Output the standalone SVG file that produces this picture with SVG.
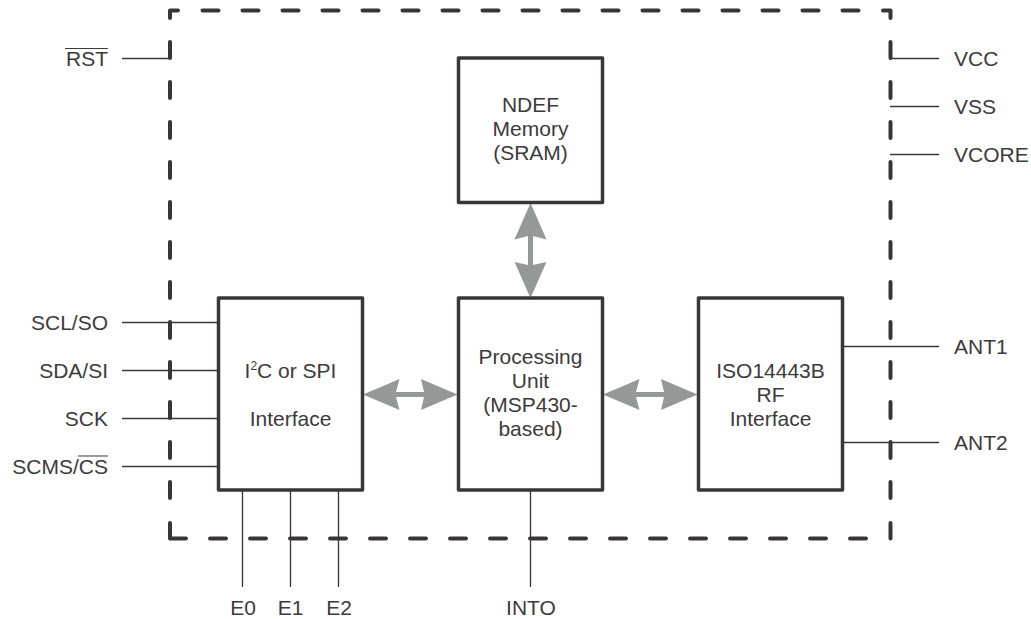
<svg xmlns="http://www.w3.org/2000/svg" width="1031" height="619" viewBox="0 0 1031 619">
<style>
text{font-family:"Liberation Sans",Arial,sans-serif;font-size:21px;fill:#3d3a3b}
.m{text-anchor:middle}
.e{text-anchor:end}
.box{fill:#fff;stroke:#3a3637;stroke-width:3.5;stroke-linejoin:round}
.w{fill:none;stroke:#3a3637;stroke-width:1.3}
.dash{fill:none;stroke:#3a3637;stroke-width:4;stroke-linecap:round;stroke-linejoin:round}
.arrow{fill:#949897}
.ov{fill:none;stroke:#3d3a3b;stroke-width:1.2}
</style>
<rect width="1031" height="619" fill="#fff"/>
<g id="boundary"><path class="dash" d="M170 18V10.5H178M202.5 10.5H218.5M242.5 10.5H258.5M282.5 10.5H298.5M322.5 10.5H338.5M362.5 10.5H378.5M402.5 10.5H418.5M442.5 10.5H458.5M482.5 10.5H498.5M522.5 10.5H538.5M562.5 10.5H578.5M602.5 10.5H618.5M642.5 10.5H658.5M682.5 10.5H698.5M722.5 10.5H738.5M762.5 10.5H778.5M802.5 10.5H818.5M842.5 10.5H858.5M883 10.5H890.5V18
M170 42V58M170 82V98M170 122V138M170 162V178M170 202V218M170 242V258M170 282V298M170 322V338M170 362V378M170 402V418M170 442V458M170 482V498M170 523V538.5H186
M210 538.5H226M250 538.5H266M290 538.5H306M330 538.5H346M370 538.5H386M410 538.5H426M450 538.5H466M490 538.5H506M530 538.5H546M570 538.5H586M610 538.5H626M650 538.5H666M690 538.5H706M730 538.5H746M770 538.5H786M810 538.5H826M850 538.5H866
M890.5 42V58M890.5 82V98M890.5 122V138M890.5 162V178M890.5 202V218M890.5 242V258M890.5 282V298M890.5 322V338M890.5 362V378M890.5 402V418M890.5 442V458M890.5 482V498M890.5 523V538.5"/></g>
<g id="connectors">
<path class="w" d="M122 58.5H170M122 322.5H218M122 370.5H218M122 418.5H218M122 466.5H218M242.5 490V587M290.5 490V587M338.5 490V587M530.5 490V587M890 58.5H939M890 106.5H939M890 154.5H939M843 346.5H939M843 442.5H939"/>
<polygon class="arrow" points="363,394.5 399.5,379 396,392 424,392 421,379 457.5,394.5 421,410 424,397 396,397 399.5,410"/>
<polygon class="arrow" points="603,394.5 639.5,379 636,392 664,392 661,379 697.5,394.5 661,410 664,397 636,397 639.5,410"/>
<polygon class="arrow" points="530.5,203 546.5,239.5 533,236 533,265 546.5,262 530.5,298 514.5,262 528,265 528,236 514.5,239.5"/>
</g>
<g id="ndef"><rect class="box" x="458.5" y="58" width="144" height="144.5"/><text class="m" x="530.5" y="112">NDEF</text><text class="m" x="530.5" y="136">Memory</text><text class="m" x="530.5" y="160">(SRAM)</text></g>
<g id="i2c"><rect class="box" x="218.5" y="298" width="144" height="192"/><text class="m" x="290.5" y="378">I<tspan font-size="12" dy="-8">2</tspan><tspan dy="8">C or SPI</tspan></text><text class="m" x="290.5" y="426">Interface</text></g>
<g id="processing"><rect class="box" x="458.5" y="298" width="144" height="192"/><text class="m" x="530.5" y="364">Processing</text><text class="m" x="530.5" y="388">Unit</text><text class="m" x="530.5" y="412">(MSP430-</text><text class="m" x="530.5" y="436">based)</text></g>
<g id="rf"><rect class="box" x="698.5" y="298" width="144" height="192"/><text class="m" x="770.5" y="378">ISO14443B</text><text class="m" x="770.5" y="402">RF</text><text class="m" x="770.5" y="426">Interface</text></g>
<g id="labels">
<text class="e" x="108" y="66">RST</text>
<text class="e" x="108" y="330">SCL/SO</text>
<text class="e" x="108" y="378">SDA/SI</text>
<text class="e" x="108" y="426">SCK</text>
<text class="e" x="108" y="474">SCMS/CS</text>
<path class="ov" d="M65 48.5H108M78 456H108"/>
<text x="954" y="66">VCC</text>
<text x="954" y="114">VSS</text>
<text x="954" y="162">VCORE</text>
<text x="954" y="354">ANT1</text>
<text x="954" y="450">ANT2</text>
<text class="m" x="243" y="614.5">E0</text>
<text class="m" x="290.5" y="614.5">E1</text>
<text class="m" x="339" y="614.5">E2</text>
<text class="m" x="531" y="614.5">INTO</text>
</g>
</svg>
